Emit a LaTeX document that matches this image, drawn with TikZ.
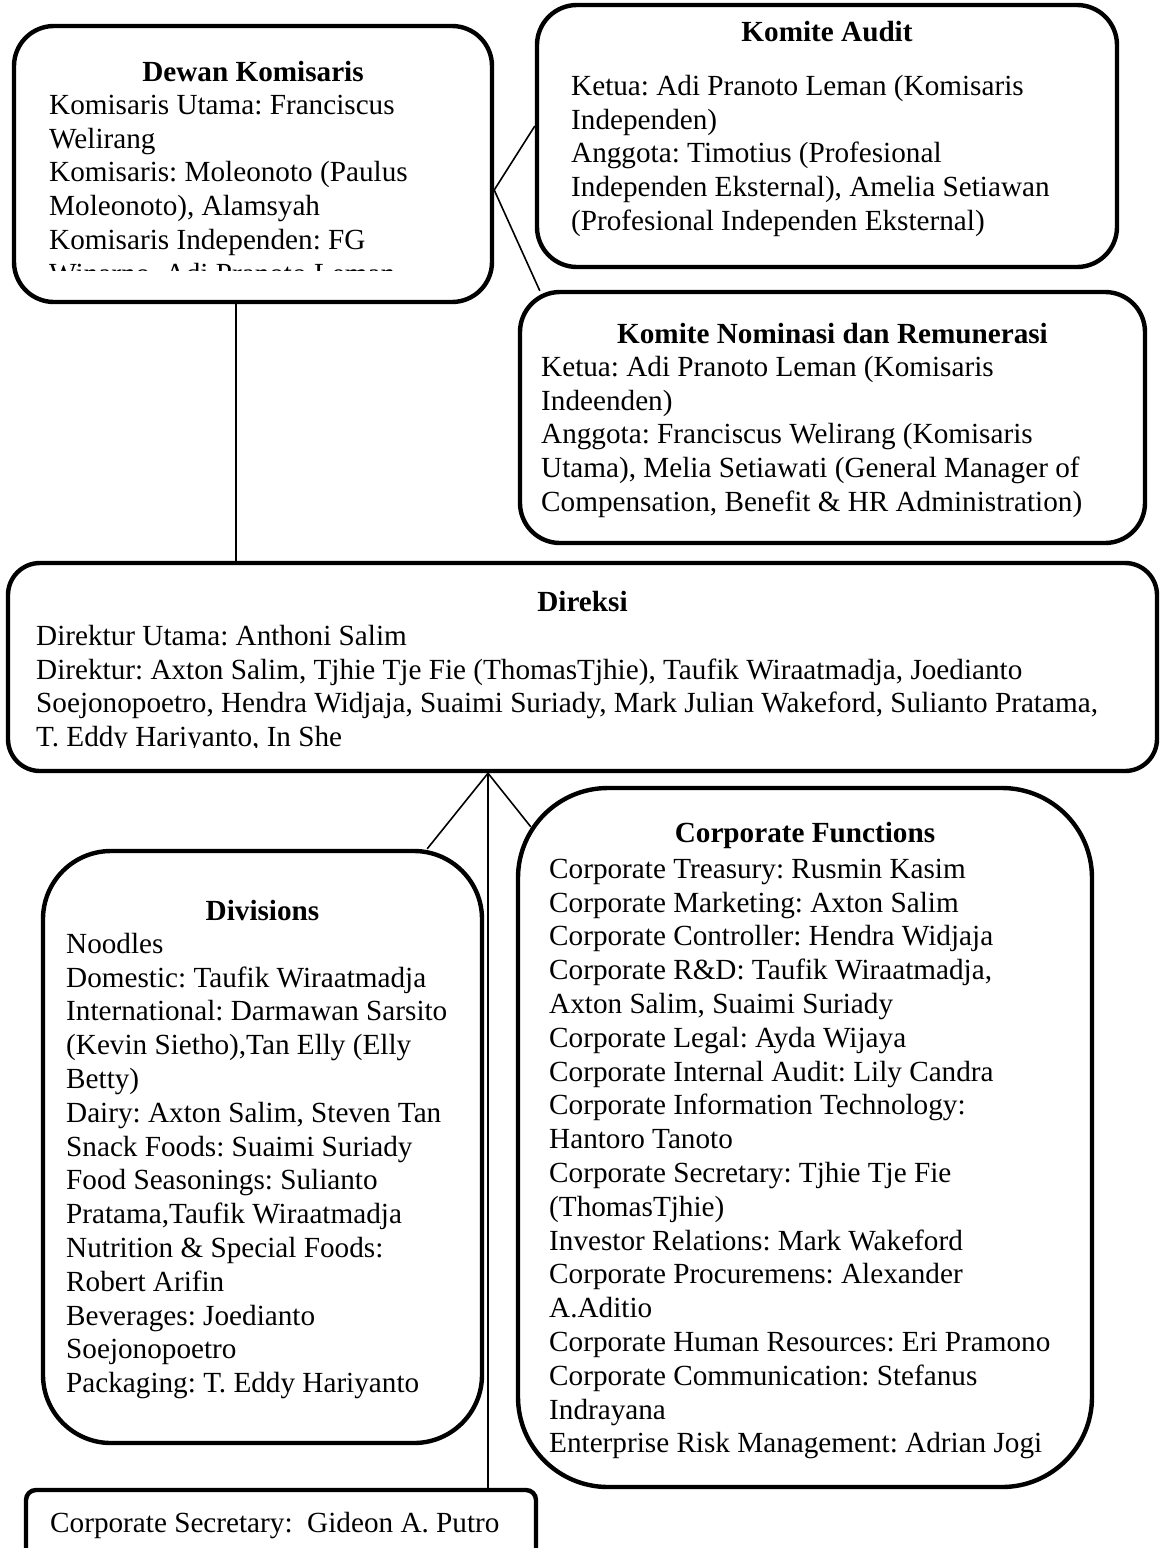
\documentclass[tikz,border=0pt]{standalone}
\usepackage{fontspec}
\setmainfont{Liberation Serif}
\frenchspacing
\usetikzlibrary{positioning,calc}
\tikzset{
  unit/.style      = {draw, line width=2.2pt, inner sep=0pt},
  unittitle/.style = {anchor=base, inner sep=0pt, font=\fontsize{14.6pt}{16.9pt}\selectfont\bfseries},
  unitbody/.style  = {anchor=north west, inner sep=0pt, align=left, font=\fontsize{14.6pt}{16.9pt}\selectfont},
  link/.style      = {line width=0.8pt}
}
\newcommand{\DrawUnit}[5]{%
  % draws the rounded box (unit)
  \node[unit,#3] (#1) at #2 {};
  % displays unit name (top, centered)
  \node[unittitle] (#1-title) at ($(#1.north)+(0,#4)$) {#5};
}

\begin{document}
\begin{tikzpicture}[x=0.5pt,y=-0.5pt]
    \useasboundingbox (0,0) rectangle (1160,1548);
    \clip (0,0) rectangle (1160,1548);

    \DrawUnit{dewan}{(253,164)}
    {minimum width=239pt, minimum height=138pt, rounded corners=20pt}
    {58}{Dewan Komisaris}
    \begin{scope}
      \clip (dewan.north west) rectangle ($(dewan.north east)+(0,247)$);
      \node[unitbody, below right=33.2pt and 18.5pt of dewan.north west] (dewan-body)
      {\strut Komisaris Utama: Franciscus\\
       Welirang\\
       Komisaris: Moleonoto (Paulus\\
       Moleonoto), Alamsyah\\
       Komisaris Independen: FG\\
       Winarno, Adi Pranoto Leman};
    \end{scope}

    \DrawUnit{audit}{(827,136)}
    {minimum width=290pt, minimum height=131pt, rounded corners=20pt}
    {39}{Komite Audit}
    \node[unitbody, below right=34.2pt and 18pt of audit.north west] (audit-body)
    {\strut Ketua: Adi Pranoto Leman (Komisaris\\
     Independen)\\
     Anggota: Timotius (Profesional\\
     Independen Eksternal), Amelia Setiawan\\
     (Profesional Independen Eksternal)};

    \DrawUnit{nominasi}{(832.5,417.5)}
    {minimum width=312.5pt, minimum height=125.5pt, rounded corners=20pt}
    {54}{Komite Nominasi dan Remunerasi}
    \node[unitbody, below right=31.2pt and 11.5pt of nominasi.north west] (nominasi-body)
    {\strut Ketua: Adi Pranoto Leman (Komisaris\\
     Indeenden)\\
     Anggota: Franciscus Welirang (Komisaris\\
     Utama), Melia Setiawati (General Manager of\\
     Compensation, Benefit \& HR Administration)};

    \DrawUnit{direksi}{(582.5,667)}
    {minimum width=574.5pt, minimum height=104pt, rounded corners=16pt}
    {51}{Direksi}
    \begin{scope}
      \clip (direksi.north west) rectangle ($(direksi.north east)+(0,187)$);
      \node[unitbody, below right=30.2pt and 15pt of direksi.north west] (direksi-body)
      {\strut Direktur Utama: Anthoni Salim\\
       Direktur: Axton Salim, Tjhie Tje Fie (ThomasTjhie), Taufik Wiraatmadja, Joedianto\\
       Soejonopoetro, Hendra Widjaja, Suaimi Suriady, Mark Julian Wakeford, Sulianto Pratama,\\
       T. Eddy Hariyanto, In She};
    \end{scope}

    \DrawUnit{divisions}{(262.5,1147)}
    {minimum width=219.5pt, minimum height=296pt, rounded corners=34pt}
    {72}{Divisions}
    \node[unitbody, below right=40.2pt and 12.5pt of divisions.north west] (divisions-body)
    {\strut Noodles\\
     Domestic: Taufik Wiraatmadja\\
     International: Darmawan Sarsito\\
     (Kevin Sietho),Tan Elly (Elly\\
     Betty)\\
     Dairy: Axton Salim, Steven Tan\\
     Snack Foods: Suaimi Suriady\\
     Food Seasonings: Sulianto\\
     Pratama,Taufik Wiraatmadja\\
     Nutrition \& Special Foods:\\
     Robert Arifin\\
     Beverages: Joedianto\\
     Soejonopoetro\\
     Packaging: T. Eddy Hariyanto};

    \DrawUnit{corpfunc}{(805,1137.5)}
    {minimum width=287pt, minimum height=349.5pt, rounded corners=45pt}
    {57}{Corporate Functions}
    \node[unitbody, below right=34.2pt and 16.5pt of corpfunc.north west] (corpfunc-body)
    {\strut Corporate Treasury: Rusmin Kasim\\
     Corporate Marketing: Axton Salim\\
     Corporate Controller: Hendra Widjaja\\
     Corporate R\&D: Taufik Wiraatmadja,\\
     Axton Salim, Suaimi Suriady\\
     Corporate Legal: Ayda Wijaya\\
     Corporate Internal Audit: Lily Candra\\
     Corporate Information Technology:\\
     Hantoro Tanoto\\
     Corporate Secretary: Tjhie Tje Fie\\
     (ThomasTjhie)\\
     Investor Relations: Mark Wakeford\\
     Corporate Procuremens: Alexander\\
     A.Aditio\\
     Corporate Human Resources: Eri Pramono\\
     Corporate Communication: Stefanus\\
     Indrayana\\
     Enterprise Risk Management: Adrian Jogi};

    \node[unit, minimum width=255pt, minimum height=55pt, rounded corners=5pt] (sekretaris) at (281,1545) {};
    \node[unitbody, anchor=base west] (sekretaris-body) at ($(sekretaris.north west)+(26,45)$)
    {Corporate Secretary:~ Gideon A. Putro};

    % connectors
    \coordinate (dk) at ($(dewan.south)+(-17,0)$);
    \coordinate (kj) at ($(dewan.east)+(0,26)$);
    \coordinate (dj) at ($(direksi.south)+(-94.5,0)$);
    \draw[link] (dk) -- (dk |- direksi.north);
    \draw[link] ($(audit.west)+(0,-10)$) -- (kj) -- ($(nominasi.north west)+(22,1)$);
    \draw[link] ($(divisions.north east)+(-57,0)$) -- (dj) -- ($(corpfunc.north west)+(15,41)$);
    \draw[link] (dj) -- (dj |- sekretaris.north);
\end{tikzpicture}
\end{document}
